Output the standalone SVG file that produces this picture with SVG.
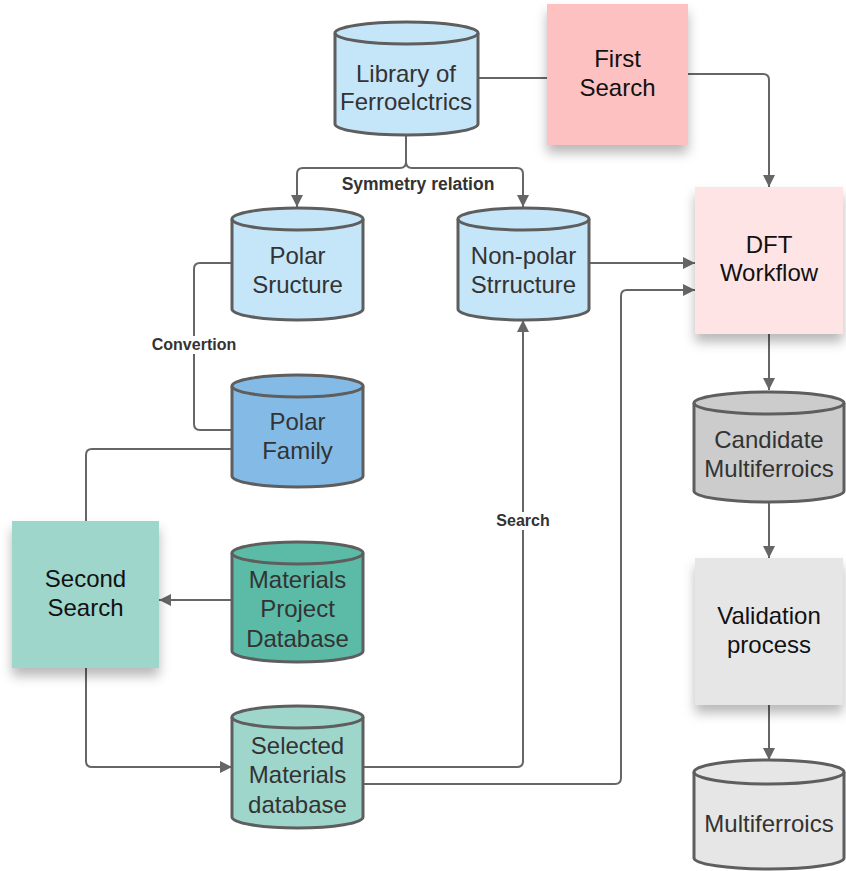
<svg xmlns="http://www.w3.org/2000/svg" width="846" height="871" viewBox="0 0 846 871">
  <style>
    .cyl { stroke: #5e5e5e; stroke-width: 3; stroke-linejoin: round; }
    .cap { fill: none; stroke: #5e5e5e; stroke-width: 3; }
    .box { stroke: none; }
    .t { font-family: "Liberation Sans", Arial, sans-serif; font-size: 24px; text-anchor: middle; fill: #333333; }
    .tb { fill: #111111; }
    .lbl { font-family: "Liberation Sans", Arial, sans-serif; font-size: 16px; font-weight: bold; text-anchor: middle; fill: #333333; }
    .edge { fill: none; stroke: #666666; stroke-width: 2; stroke-linejoin: round; }
  </style>
  <defs>
    <marker id="arrow" viewBox="0 0 12 12" refX="12" refY="6" markerWidth="12" markerHeight="12" markerUnits="userSpaceOnUse" orient="auto">
      <path d="M0,0 L12,6 L0,12 Z" fill="#666666"/>
    </marker>
    <filter id="shadow" x="-20%" y="-20%" width="140%" height="150%">
      <feDropShadow dx="0" dy="8" stdDeviation="6" flood-color="#000000" flood-opacity="0.28"/>
    </filter>
  </defs>

  <rect width="846" height="871" fill="#ffffff"/>

  <!-- connectors -->
  <g id="connectors">
    <path class="edge" d="M478,78 H547"/>
    <path class="edge" d="M688,74 H763 Q769,74 769,80 V187" marker-end="url(#arrow)"/>
    <path class="edge" d="M406,135 V162 Q406,168 400,168 H303 Q297,168 297,174 V207" marker-end="url(#arrow)"/>
    <path class="edge" d="M406,162 Q406,168 412,168 H517 Q523,168 523,174 V207" marker-end="url(#arrow)"/>
    <path class="edge" d="M589,263 H695" marker-end="url(#arrow)"/>
    <path class="edge" d="M232,263 H200 Q194,263 194,269 V424 Q194,430 200,430 H232"/>
    <path class="edge" d="M232,449 H92 Q86,449 86,455 V521"/>
    <path class="edge" d="M232,600 H159" marker-end="url(#arrow)"/>
    <path class="edge" d="M86,668 V761 Q86,767 92,767 H232" marker-end="url(#arrow)"/>
    <path class="edge" d="M363,767 H517 Q523,767 523,761 V320" marker-end="url(#arrow)"/>
    <path class="edge" d="M363,784 H615 Q621,784 621,778 V296 Q621,290 627,290 H695" marker-end="url(#arrow)"/>
    <path class="edge" d="M769,334 V390" marker-end="url(#arrow)"/>
    <path class="edge" d="M769,502 V558" marker-end="url(#arrow)"/>
    <path class="edge" d="M769,705 V760" marker-end="url(#arrow)"/>
    <!-- edge labels -->
    <text class="lbl" x="418" y="190" style="font-size:17.5px">Symmetry relation</text>
    <rect x="150" y="336" width="88" height="18" fill="#ffffff"/>
    <text class="lbl" x="194" y="350">Convertion</text>
    <rect x="495" y="512" width="56" height="18" fill="#ffffff"/>
    <text class="lbl" x="523" y="526">Search</text>
  </g>

  <!-- Library of Ferroelctrics -->
  <g id="library">
    <path class="cyl" fill="#c5e5f8" d="M335,33 A71.5,11 0 0 1 478,33 V124 A71.5,11 0 0 1 335,124 Z"/>
    <path class="cap" d="M335,33 A71.5,11 0 0 0 478,33"/>
    <text class="t" x="406" y="82">Library of</text>
    <text class="t" x="406" y="110">Ferroelctrics</text>
  </g>

  <!-- First Search -->
  <g id="first-search">
    <rect class="box" x="547" y="4" width="141" height="141" fill="#fec1c2" filter="url(#shadow)"/>
    <text class="t tb" x="617.5" y="67">First</text>
    <text class="t tb" x="617.5" y="96">Search</text>
  </g>

  <!-- Polar Sructure -->
  <g id="polar-structure">
    <path class="cyl" fill="#c5e5f8" d="M232,219 A65.5,11 0 0 1 363,219 V309 A65.5,11 0 0 1 232,309 Z"/>
    <path class="cap" d="M232,219 A65.5,11 0 0 0 363,219"/>
    <text class="t" x="297.5" y="264">Polar</text>
    <text class="t" x="297.5" y="293">Sructure</text>
  </g>

  <!-- Non-polar Strrucure -->
  <g id="nonpolar-structure">
    <path class="cyl" fill="#c5e5f8" d="M458,219 A65.5,11 0 0 1 589,219 V309 A65.5,11 0 0 1 458,309 Z"/>
    <path class="cap" d="M458,219 A65.5,11 0 0 0 589,219"/>
    <text class="t" x="523.5" y="264">Non-polar</text>
    <text class="t" x="523.5" y="293">Strructure</text>
  </g>

  <!-- DFT Workflow -->
  <g id="dft-workflow">
    <rect class="box" x="695" y="187" width="148" height="147" fill="#ffe4e6" filter="url(#shadow)"/>
    <text class="t tb" x="769" y="253">DFT</text>
    <text class="t tb" x="769" y="281">Workflow</text>
  </g>

  <!-- Polar Family -->
  <g id="polar-family">
    <path class="cyl" fill="#83bbe6" d="M232,386 A65.5,11 0 0 1 363,386 V476 A65.5,11 0 0 1 232,476 Z"/>
    <path class="cap" d="M232,386 A65.5,11 0 0 0 363,386"/>
    <text class="t" x="297.5" y="430">Polar</text>
    <text class="t" x="297.5" y="459">Family</text>
  </g>

  <!-- Candidate Multiferroics -->
  <g id="candidate">
    <path class="cyl" fill="#cccccc" d="M694,403 A75,11 0 0 1 844,403 V491 A75,11 0 0 1 694,491 Z"/>
    <path class="cap" d="M694,403 A75,11 0 0 0 844,403"/>
    <text class="t" x="769" y="448">Candidate</text>
    <text class="t" x="769" y="477">Multiferroics</text>
  </g>

  <!-- Second Search -->
  <g id="second-search">
    <rect class="box" x="12" y="521" width="147" height="147" fill="#9ed6cc" filter="url(#shadow)"/>
    <text class="t tb" x="85.5" y="587">Second</text>
    <text class="t tb" x="85.5" y="616">Search</text>
  </g>

  <!-- Materials Project Database -->
  <g id="materials-project">
    <path class="cyl" fill="#5bbba7" d="M232,553 A65.5,11 0 0 1 363,553 V651 A65.5,11 0 0 1 232,651 Z"/>
    <path class="cap" d="M232,553 A65.5,11 0 0 0 363,553"/>
    <text class="t" x="297.5" y="588">Materials</text>
    <text class="t" x="297.5" y="617">Project</text>
    <text class="t" x="297.5" y="647">Database</text>
  </g>

  <!-- Validation process -->
  <g id="validation">
    <rect class="box" x="695" y="558" width="148" height="147" fill="#e6e6e6" filter="url(#shadow)"/>
    <text class="t tb" x="769" y="624">Validation</text>
    <text class="t tb" x="769" y="653">process</text>
  </g>

  <!-- Selected Materials database -->
  <g id="selected-materials">
    <path class="cyl" fill="#9ed6cc" d="M232,717 A65.5,11 0 0 1 363,717 V817 A65.5,11 0 0 1 232,817 Z"/>
    <path class="cap" d="M232,717 A65.5,11 0 0 0 363,717"/>
    <text class="t" x="297.5" y="754">Selected</text>
    <text class="t" x="297.5" y="783">Materials</text>
    <text class="t" x="297.5" y="813">database</text>
  </g>

  <!-- Multiferroics -->
  <g id="multiferroics">
    <path class="cyl" fill="#e6e6e6" d="M694,772 A75,12 0 0 1 844,772 V858 A75,11 0 0 1 694,858 Z"/>
    <path class="cap" d="M694,772 A75,12 0 0 0 844,772"/>
    <text class="t" x="769" y="832">Multiferroics</text>
  </g>
</svg>
